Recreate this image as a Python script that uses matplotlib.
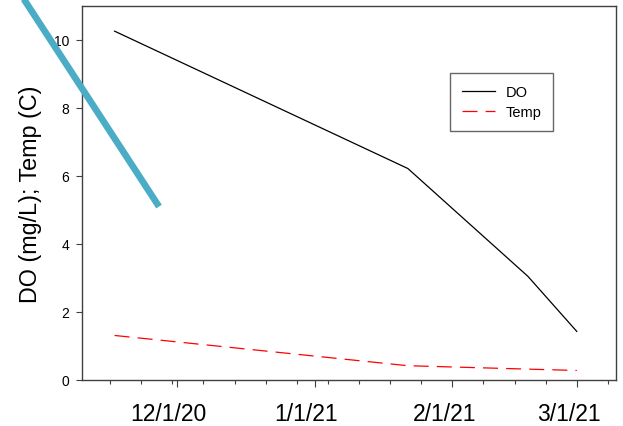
import matplotlib
matplotlib.use("Agg")
import matplotlib.pyplot as plt
import matplotlib.dates as mdates
import matplotlib.transforms as mtrans
from datetime import datetime

plt.rcParams['font.family'] = ['Liberation Sans', 'DejaVu Sans']

# data
dates = [datetime(2020, 11, 17), datetime(2021, 1, 22), datetime(2021, 2, 18), datetime(2021, 3, 1)]
do_vals = [10.26, 6.22, 3.05, 1.43]
temp_vals = [1.31, 0.42, 0.32, 0.28]

# highlight stroke (annotation)
stroke_dates = [datetime(2020, 10, 26), datetime(2020, 11, 27)]
stroke_vals = [11.52, 5.1]

xlim = (datetime(2020, 11, 9, 16), datetime(2021, 3, 9, 20))
ylim = (0, 11)
yticks = [0, 2, 4, 6, 8, 10]
xtick_dates = [datetime(2020, 12, 1), datetime(2021, 1, 1), datetime(2021, 2, 1), datetime(2021, 3, 1)]
xtick_labels = ['12/1/20', '1/1/21', '2/1/21', '3/1/21']

fig = plt.figure(figsize=(6.23, 4.27), dpi=100)
ax = fig.add_axes([82/623, 1-381/427, 534/623, 374/427])

ax.plot(dates, do_vals, color='black', lw=0.9, label='DO')
ax.plot(dates, temp_vals, color='red', lw=0.9, linestyle=(0, (12, 6.5)), label='Temp')
ax.plot(stroke_dates, stroke_vals, color='#4BACC6', lw=4.8, clip_on=False, solid_capstyle='butt', zorder=5)

ax.set_xlim(*xlim)
ax.set_ylim(*ylim)
ax.set_yticks(yticks)
ax.set_xticks(xtick_dates)
ax.set_xticklabels(xtick_labels)
ax.xaxis.set_minor_locator(mdates.WeekdayLocator(byweekday=mdates.MO))

for s in ax.spines.values():
    s.set_color('#404040')
    s.set_linewidth(1.0)

ax.tick_params(axis='x', which='major', length=5, width=0.8, color='#404040', labelsize=16.5, pad=11)
ax.tick_params(axis='x', which='minor', length=3, width=0.8, color='#404040')
ax.tick_params(axis='y', which='major', length=4, width=0.8, color='#404040', labelsize=10, pad=5)

offset = mtrans.ScaledTranslation(-8/100, 0, fig.dpi_scale_trans)
for lbl in ax.get_xticklabels():
    lbl.set_transform(lbl.get_transform() + offset)

ax.set_ylabel('DO (mg/L); Temp (C)', fontsize=16.8, labelpad=9)

leg = ax.legend(loc='upper left', bbox_to_anchor=(0.689, 0.821), borderaxespad=0,
                fontsize=10.5, frameon=True, fancybox=False, handlelength=2.3,
                borderpad=0.8, labelspacing=0.45, handletextpad=0.7)
leg.get_frame().set_edgecolor('#404040')
leg.get_frame().set_linewidth(1.0)

fig.savefig('out.png', dpi=100)
